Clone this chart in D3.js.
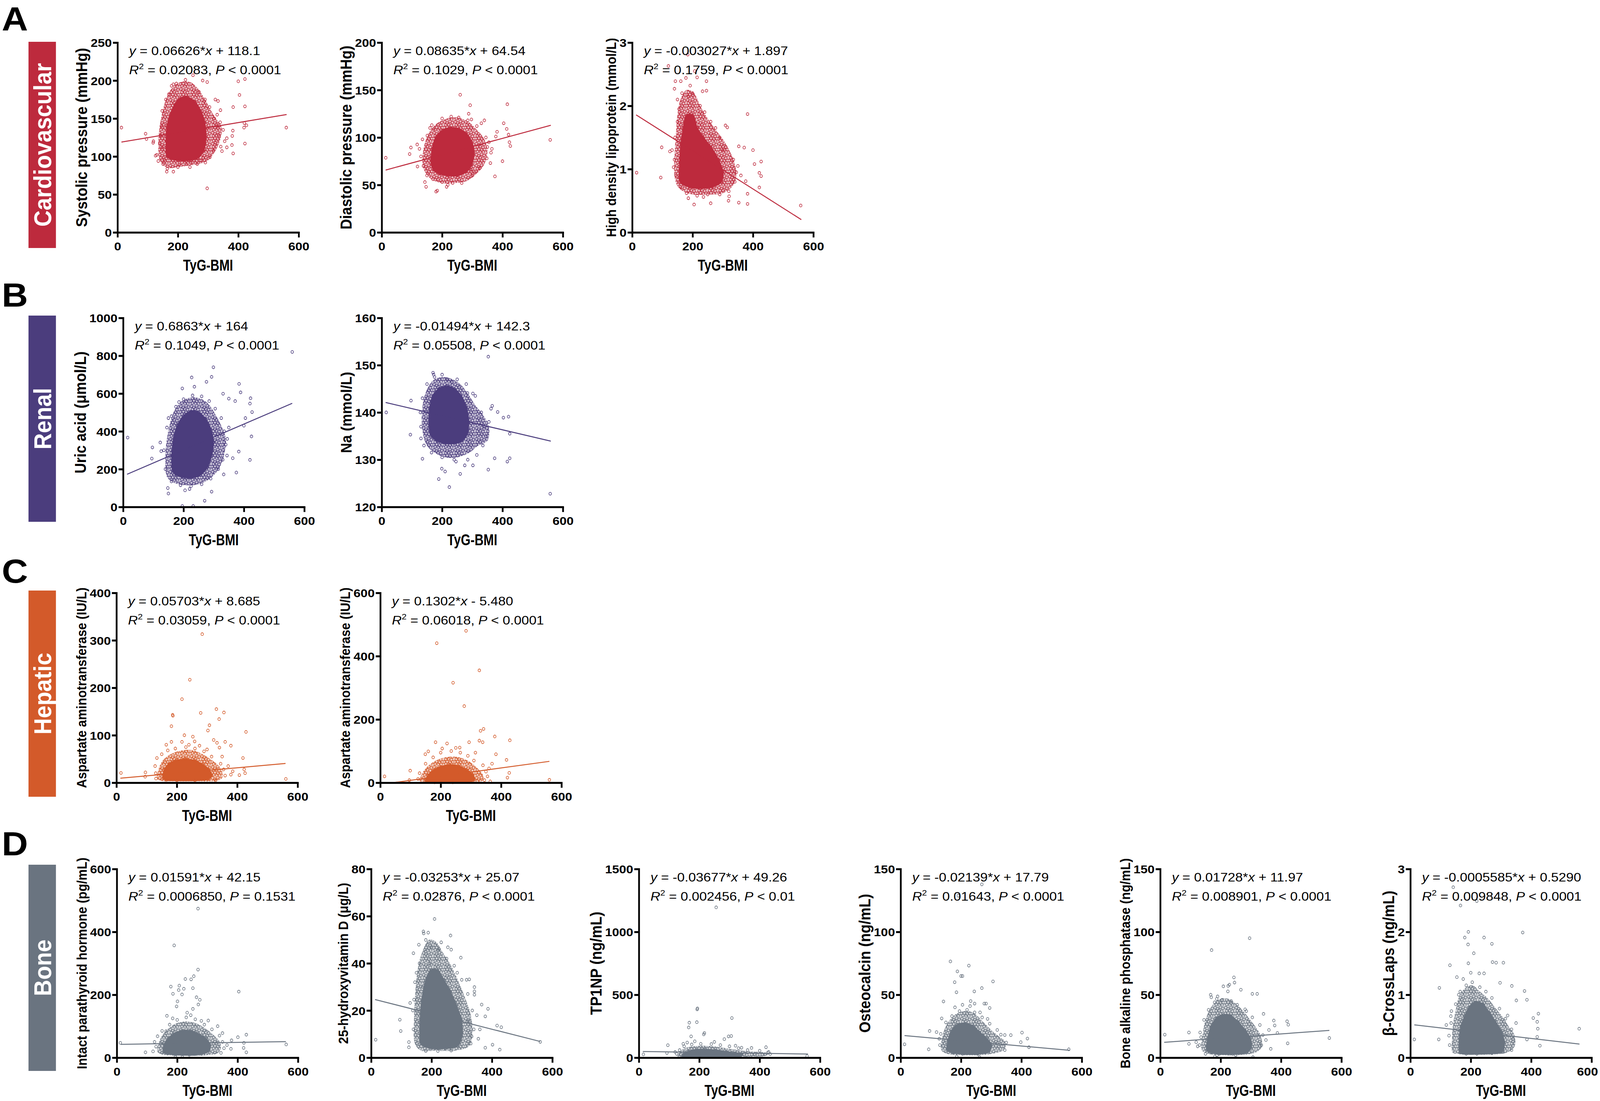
<!DOCTYPE html>
<html>
<head>
<meta charset="utf-8">
<script src="https://cdn.jsdelivr.net/npm/d3@7"></script>
<style>
  html, body { margin: 0; padding: 0; background: #fff; overflow: hidden; }
  #fig { display: block; width: 100vw; height: 100vh; }
  svg text { font-family: "Liberation Sans", Arial, Helvetica, sans-serif; white-space: pre; }
</style>
</head>
<body>
<svg id="fig" viewBox="0 0 4548 2819" preserveAspectRatio="none"></svg>
<script>
// --- figure groups (rows A-D)
var groups = ["Cardiovascular", "Renal", "Hepatic", "Bone"];
var groupLetters = ["A", "B", "C", "D"];
var groupColors = ["#bd2a3d", "#4b3d7d", "#d35a2a", "#6a7480"];

var xTicks = [0, 200, 400, 600];
var xLabel = "TyG-BMI";
var fitRange = [13, 560];

// --- one entry per panel, in reading order
var panelRow = [0, 0, 0, 1, 1, 2, 2, 3, 3, 3, 3, 3, 3];
var yLabels = [
  "Systolic pressure (mmHg)", "Diastolic pressure (mmHg)", "High density lipoprotein (mmol/L)",
  "Uric acid (\u03bcmol/L)", "Na (mmol/L)",
  "Aspartate aminotransferase (IU/L)", "Aspartate aminotransferase (IU/L)",
  "Intact parathyroid hormone (pg/mL)", "25-hydroxyvitamin D (\u03bcg/L)", "TP1NP (ng/mL)",
  "Osteocalcin (ng/mL)", "Bone alkaline phosphatase (ng/mL)", "\u03b2-CrossLaps (ng/mL)"
];
var yTicks = [
  [0, 50, 100, 150, 200, 250], [0, 50, 100, 150, 200], [0, 1, 2, 3],
  [0, 200, 400, 600, 800, 1000], [120, 130, 140, 150, 160],
  [0, 100, 200, 300, 400], [0, 200, 400, 600],
  [0, 200, 400, 600], [0, 20, 40, 60, 80], [0, 500, 1000, 1500],
  [0, 50, 100, 150], [0, 50, 100, 150], [0, 1, 2, 3]
];
var slopes = [0.06626, 0.08635, -0.003027, 0.6863, -0.01494, 0.05703, 0.1302, 0.01591, -0.03253, -0.03677, -0.02139, 0.01728, -0.0005585];
var intercepts = [118.1, 64.54, 1.897, 164, 142.3, 8.685, -5.480, 42.15, 25.07, 49.26, 17.79, 11.97, 0.5290];
var eqLines = [
  "y = 0.06626*x + 118.1", "y = 0.08635*x + 64.54", "y = -0.003027*x + 1.897",
  "y = 0.6863*x + 164", "y = -0.01494*x + 142.3",
  "y = 0.05703*x + 8.685", "y = 0.1302*x - 5.480",
  "y = 0.01591*x + 42.15", "y = -0.03253*x + 25.07", "y = -0.03677*x + 49.26",
  "y = -0.02139*x + 17.79", "y = 0.01728*x + 11.97", "y = -0.0005585*x + 0.5290"
];
var r2Vals = ["0.02083", "0.1029", "0.1759", "0.1049", "0.05508", "0.03059", "0.06018",
  "0.0006850", "0.02876", "0.002456", "0.01643", "0.008901", "0.009848"];
var pVals = ["< 0.0001", "< 0.0001", "< 0.0001", "< 0.0001", "< 0.0001", "< 0.0001", "< 0.0001",
  "= 0.1531", "< 0.0001", "< 0.01", "< 0.0001", "< 0.0001", "< 0.0001"];

// solid centre of each cloud (outline)
var sbpCore = [[165,100],[162,120],[165,140],[175,155],[190,168],[205,176],[230,178],[255,172],[275,160],[288,145],[292,125],[285,108],[265,98],[235,95],[200,95],[178,97]];
var dbpCore = [[165,72],[168,88],[180,100],[200,107],[225,110],[255,109],[280,104],[298,95],[305,84],[298,72],[280,64],[250,60],[220,60],[190,62],[172,66]];
var hdlCore = [[160,0.8],[158,1.1],[162,1.4],[170,1.65],[180,1.85],[200,1.85],[215,1.65],[235,1.5],[260,1.35],[285,1.15],[300,0.95],[295,0.8],[265,0.72],[225,0.7],[190,0.72]];
var uaCore = [[165,190],[162,270],[168,360],[180,430],[200,480],[225,505],[250,500],[272,465],[290,410],[298,340],[292,270],[278,210],[255,170],[225,155],[195,160],[175,172]];
var naCore = [[158,137],[160,141],[170,143.5],[190,145],[215,145.5],[240,145],[262,143.5],[280,141],[287,138],[283,135.5],[265,134],[240,133.5],[210,133.5],[185,134],[165,135]];
var ast1Core = [[155,10],[160,28],[175,40],[200,47],[230,49],[260,46],[285,38],[305,28],[315,16],[305,8],[260,5],[200,5],[165,6]];
var ast2Core = [[150,4],[158,22],[175,38],[200,50],[230,56],[260,52],[285,40],[305,25],[312,10],[295,2],[240,1],[180,1],[160,2]];
var pthCore = [[155,18],[158,40],[170,60],[190,75],[215,85],[245,85],[270,75],[295,60],[308,40],[305,22],[280,12],[240,9],[195,10],[168,13]];
var vitdCore = [[165,6],[163,15],[168,24],[180,32],[198,37],[220,37],[240,33],[262,28],[282,22],[298,16],[300,9],[285,5],[245,4],[200,4],[175,5]];
var p1npCore = [[145,8],[150,30],[165,50],[190,62],[220,64],[255,58],[290,46],[320,35],[340,25],[335,12],[300,7],[230,5],[175,5]];
var ocCore = [[155,6],[158,14],[168,21],[188,26],[215,27],[240,25],[262,20],[285,15],[300,10],[292,5],[255,3],[205,3],[172,4]];
var alpCore = [[155,6],[158,15],[168,24],[185,31],[210,34],[235,33],[258,28],[280,22],[298,15],[300,8],[285,4],[240,3],[195,3],[170,4]];
var ctxCore = [[165,0.08],[163,0.3],[168,0.5],[180,0.65],[195,0.8],[215,0.88],[240,0.85],[260,0.72],[280,0.58],[300,0.42],[310,0.25],[305,0.1],[270,0.07],[220,0.06],[185,0.06]];

// crowded ring of circles round each centre
var sbpRing = [[140,95],[135,115],[140,140],[150,160],[165,180],[185,192],[210,198],[240,198],[265,190],[290,175],[310,160],[330,148],[345,138],[340,122],[325,108],[300,95],[270,90],[235,88],[200,86],[165,85]];
var dbpRing = [[135,72],[140,90],[155,104],[180,114],[215,120],[250,121],[285,117],[315,108],[340,98],[350,85],[340,72],[315,62],[280,54],[240,52],[200,52],[165,56],[145,63]];
var hdlRing = [[140,0.9],[140,1.2],[145,1.55],[150,1.85],[160,2.1],[180,2.25],[205,2.2],[225,2.0],[250,1.8],[280,1.6],[310,1.4],[335,1.15],[345,0.95],[335,0.75],[300,0.62],[250,0.6],[200,0.6],[165,0.66],[148,0.75]];
var uaRing = [[145,160],[140,260],[145,360],[155,440],[170,510],[195,560],[230,580],[260,570],[285,540],[305,490],[325,430],[340,360],[335,280],[320,210],[295,160],[260,125],[220,115],[185,120],[160,135]];
var naRing = [[135,136],[133,140],[140,143],[155,145.5],[175,147],[205,147.5],[235,147],[260,146],[285,144],[310,141.5],[335,139.5],[355,137],[350,134],[320,133],[290,131.5],[250,130.5],[210,130.5],[175,131.5],[150,133]];
var ast1Ring = [[135,8],[140,30],[155,48],[180,60],[215,68],[255,68],[285,60],[310,50],[335,38],[350,25],[350,10],[330,4],[260,3],[190,3],[150,4]];
var ast2Ring = [[130,5],[138,28],[155,50],[180,68],[215,80],[250,82],[280,74],[305,60],[325,42],[340,25],[340,8],[320,1],[250,0],[170,0],[140,1]];
var pthRing = [[135,18],[138,45],[150,70],[170,92],[200,110],[235,115],[265,108],[295,92],[320,72],[340,52],[345,32],[335,15],[300,8],[240,6],[180,7],[150,10]];
var vitdRing = [[145,6],[142,16],[146,27],[155,38],[170,45],[192,50],[215,49],[240,44],[265,39],[290,32],[312,25],[330,18],[335,10],[325,5],[280,3],[210,3],[165,3]];
var p1npRing = [[128,12],[135,45],[150,72],[180,90],[215,95],[255,88],[295,72],[335,58],[375,48],[415,42],[430,30],[420,15],[370,8],[280,4],[190,3],[145,5]];
var ocRing = [[135,6],[138,16],[150,25],[170,32],[195,36],[225,37],[250,34],[275,28],[300,22],[325,17],[345,13],[345,7],[320,4],[260,2],[200,2],[155,3]];
var alpRing = [[138,6],[140,18],[150,30],[168,40],[192,46],[222,47],[250,43],[275,37],[298,30],[320,23],[335,16],[335,8],[315,4],[260,2],[200,2],[160,3]];
var ctxRing = [[140,0.08],[138,0.3],[142,0.55],[150,0.75],[160,0.95],[180,1.1],[205,1.15],[230,1.05],[255,0.95],[280,0.8],[305,0.65],[325,0.5],[345,0.35],[345,0.18],[320,0.08],[270,0.05],[210,0.05],[160,0.06]];

// individual circles outside the centre
var sbpPts = [[13,138],[559,138],[93,130],[96,123],[119,120],[118,118],[130,102],[126,101],[135,94],[297,58],[400,199],[422,202],[404,181],[422,166],[383,165],[420,144],[427,141],[419,138],[422,117],[383,104],[362,112],[379,115],[362,124],[380,127],[382,134],[341,161],[333,173],[324,175],[342,113],[346,107],[225,201],[250,207],[282,200],[297,198],[179,193],[185,195],[151,90],[165,84],[163,80],[185,80],[205,89],[228,90],[243,92],[264,90],[291,92],[284,98],[306,99],
  [145,140],[142,128],[148,160],[160,175],[170,182],[195,196],[270,185],[290,175],[305,165],[320,150],[330,140],[335,128],[325,118],[318,108],[140,118],[155,96],[200,86],[240,86],[275,95],[148,112],[330,155],[340,145],[350,135],[355,120]];
var dbpPts = [[13.5,78.6],[558,97.5],[92.5,82.6],[96.7,89.4],[117.5,92.6],[118.5,69.4],[143,53],[147,48],[180,43],[184,44],[215,48],[219,50],[260,145],[293,134],[288,125],[297,119],[340,118],[404,115],[416,135],[414,109],[420,103],[423,95],[426,91],[375,59],[400,75],[382,106],[378,101],[362,84],[360,73],[308,63],[296,66],[166,113],[172,109],[151,102],
  [130,80],[125,88],[135,98],[160,110],[200,120],[230,122],[255,121],[285,118],[315,112],[345,100],[350,90],[348,78],[325,68],[300,60],[265,52],[235,52],[200,53],[170,56],[150,60],[138,70],[355,95],[365,88],[330,115]];
var hdlPts = [[14.6,0.944],[558,0.425],[97.7,1.344],[94.6,0.867],[120,2.63],[184,2.81],[178,2.44],[161,2.39],[143,2.39],[215,2.45],[207,2.55],[246,2.39],[192,2.32],[140,2.27],[233,2.23],[246,2.24],[382,1.87],[400,1.30],[427,1.12],[405,1.08],[371,1.34],[353,1.36],[421,0.94],[427,0.89],[421,0.71],[353,0.47],[382,0.45],[382,0.61],[376,0.81],[319,0.50],[321,0.57],[260,0.46],[205,0.44],[186,0.54],[236,0.56],[132,1.30],[137,1.03],[125,1.28],[309,1.69],[315,1.66],[276,1.65],
  [150,2.1],[165,2.2],[185,2.15],[200,2.2],[225,2.0],[240,1.9],[260,1.75],[290,1.5],[310,1.35],[335,1.15],[345,0.95],[340,0.8],[320,0.65],[290,0.6],[250,0.6],[215,0.58],[180,0.62],[160,0.72],[145,0.9],[140,1.15],[142,1.5],[150,1.75],[155,1.95],[350,1.05],[360,0.9],[300,1.3]];
var uaPts = [[15,367],[560,820],[97,315],[95,256],[123,341],[126,295],[299,739],[227,685],[293,688],[276,662],[196,627],[236,636],[384,651],[389,606],[422,575],[420,547],[427,502],[425,373],[405,470],[400,430],[420,249],[383,293],[375,182],[333,172],[293,81],[270,33],[196,5],[232,5],[148,100],[150,71],[205,88],[220,95],[331,599],[350,573],[371,560],[344,272],[363,258],
  [140,200],[135,300],[145,420],[160,480],[175,530],[200,570],[230,590],[260,585],[285,560],[305,520],[325,470],[335,400],[340,330],[330,250],[315,200],[290,150],[260,120],[225,110],[190,115],[160,135],[350,420],[345,360],[150,470],[185,555]];
var naPts = [[15,140],[558,122.8],[97,142.5],[95,135.3],[135,130.2],[353,151.8],[170,148.4],[172,148],[189,125.9],[224,124.2],[199,128.1],[353,127.9],[374,130.3],[424,130.3],[416,129.6],[384,140.1],[420,139.1],[403,138.9],[424,135.5],[366,141.4],[362,140.8],[302,144],[284,144.1],[233,146.4],[217,146.9],[275,128.8],[302,128.8],[246,129.6],
  [130,137],[128,140],[135,143],[150,146],[175,147.5],[200,148],[250,147],[280,146],[310,143.5],[330,140],[340,137],[335,133],[315,131],[285,130],[240,130],[200,130.5],[165,131.5],[140,133],[130,134.5],[345,135],[355,138],[260,127],[210,127.5]];
var ast1Pts = [[15,20.5],[561,7.9],[96,21.7],[95,12.6],[134,52],[131,8.7],[284,313],[243,217],[217,176],[186,143],[187,141],[182,119],[225,100],[279,147],[331,155],[356,148],[340,134],[308,121],[303,110],[379,78],[429,107],[419,52],[360,86],[322,90],[341,74],[333,84],[259,87],[253,97],[217,86],[182,86],[423,28],[426,20],[407,16],[379,17],[385,24],[328,5],
  [150,60],[170,68],[195,72],[230,75],[260,72],[290,66],[315,55],[345,40],[355,28],[360,15],[130,20],[128,35],[165,80],[240,80],[275,78],[300,70],[350,55],[370,35]];
var ast2Pts = [[14,20],[560,9],[99,38],[96,8],[284,480],[187,441],[328,355],[241,316],[278,242],[332,164],[342,170],[379,146],[429,134],[418,72],[383,90],[183,128],[221,124],[339,128],[328,133],[294,128],[427,31],[421,16],[364,4],[149,90],[159,99],[263,111],
  [130,30],[150,60],[175,80],[200,95],[235,100],[265,95],[290,85],[310,70],[340,55],[350,35],[355,20],[345,8],[125,12],[205,108],[250,110],[315,95],[360,45],[370,60]];
var pthPts = [[12,47],[561,42],[95,17],[269,474],[190,357],[269,280],[255,259],[227,250],[246,249],[252,221],[222,219],[179,226],[207,229],[186,203],[216,201],[205,215],[404,210],[264,192],[275,184],[270,169],[198,163],[201,179],[252,155],[233,143],[166,133],[350,78],[401,65],[429,73],[421,47],[429,17],[420,31],[378,28],[194,4],[217,2],[135,68],[163,84],[334,100],[303,118],[280,117],
  [130,35],[125,50],[150,85],[175,105],[200,120],[230,128],[260,122],[290,105],[315,90],[340,70],[350,50],[355,30],[345,15],[120,20],[185,125],[245,135],[365,40],[380,55]];
var vitdPts = [[15,7.6],[95,16.1],[98,11.3],[125,4.4],[560,6.7],[210,58.8],[173,53.5],[174,52.7],[189,53],[158,47.9],[181,49.9],[263,51.8],[232,48.9],[221,45.4],[254,46.8],[265,45.8],[297,42.4],[140,44.3],[316,33],[325,33.2],[342,29.9],[342,28.1],[342,26.7],[387,20.7],[366,22.5],[378,17.5],[417,13.6],[431,12.9],[426,3.4],[402,5.5],[378,4.2],[355,8],[333,9],[129,23.2],[142,24.6],[125,6.6],[181,2.8],[221,2.8],[265,3],[321,15.5],
  [140,12],[138,20],[145,32],[160,40],[180,45],[200,47],[225,46],[250,42],[275,39],[300,33],[320,27],[335,20],[340,12],[330,6],[150,36],[195,40],[170,30],[285,36],[350,18],[360,12]];
var p1npPts = [[15,26],[557,13],[96,99],[93,37],[256,1195],[194,392],[193,384],[192,282],[167,278],[165,240],[308,315],[306,172],[297,169],[283,147],[217,196],[215,185],[173,169],[147,110],[185,130],[340,79],[373,77],[421,83],[427,40],
  [125,30],[135,60],[150,90],[175,105],[205,110],[240,108],[270,100],[300,90],[330,75],[360,60],[400,55],[430,45],[435,28],[120,45],[160,120],[250,125],[320,95]];
var ocPts = [[13,10.6],[93,6.6],[96,21.2],[557,6.6],[269,137.8],[191,128.8],[165,76.5],[226,73.2],[188,68.6],[200,64.9],[205,64.9],[179,60],[306,60.6],[269,55.3],[142,44.7],[185,52],[244,52.7],[232,45],[245,43],[277,43],[283,43],[295,39.5],[288,30.8],[263,36],[332,18.3],[365,17.9],[402,19.9],[420,15.2],[425,8.3],[398,12.3],[186,1],[261,0.4],[119,20.3],[133,18.9],[136,31.2],
  [130,10],[128,15],[150,28],[170,33],[195,37],[220,38],[245,36],[270,32],[295,27],[320,22],[345,18],[350,12],[345,6],[205,42],[180,40],[230,41]];
var alpPts = [[15,18.3],[560,15.6],[95,20],[95,11],[296,95],[170,85.5],[244,63.8],[246,59.7],[225,57],[229,58],[209,56.7],[167,50],[169,48],[190,48.7],[187,46.7],[224,52.7],[267,54],[305,50.7],[321,50.7],[281,38.4],[342,34.8],[376,29.5],[420,28.9],[424,26.2],[422,11.4],[366,7],[307,0.4],[181,1],[188,2],[124,9],[119,12.3],[135,16.3],[379,25.6],[388,19.6],
  [130,10],[132,20],[145,30],[160,38],[180,44],[205,46],[235,45],[255,42],[285,37],[305,32],[330,26],[340,18],[335,10],[150,3],[250,2],[350,14],[360,22]];
var ctxPts = [[13,0.29],[559,0.46],[96,1.11],[94,0.29],[142,2.71],[166,2.42],[220,2.49],[192,2.0],[372,1.99],[180,1.91],[244,1.91],[191,1.8],[270,1.81],[210,1.66],[131,1.47],[192,1.5],[272,1.52],[284,1.51],[308,1.51],[228,1.34],[244,1.34],[154,1.28],[297,1.19],[336,1.14],[378,1.06],[386,0.92],[351,0.91],[424,0.7],[420,0.57],[422,0.46],[407,0.63],[429,0.19],[420,0.33],[134,0.66],[119,0.52],[136,0.74],[386,0.29],[322,0.67],
  [130,0.2],[128,0.35],[135,0.55],[150,0.85],[165,1.05],[185,1.15],[205,1.2],[230,1.12],[250,1.05],[270,0.95],[295,0.78],[315,0.62],[335,0.45],[340,0.3],[335,0.12],[175,1.25],[200,1.35],[160,1.0],[350,0.55]];

var cores = [sbpCore, dbpCore, hdlCore, uaCore, naCore, ast1Core, ast2Core, pthCore, vitdCore, p1npCore, ocCore, alpCore, ctxCore];
var rings = [sbpRing, dbpRing, hdlRing, uaRing, naRing, ast1Ring, ast2Ring, pthRing, vitdRing, p1npRing, ocRing, alpRing, ctxRing];
var points = [sbpPts, dbpPts, hdlPts, uaPts, naPts, ast1Pts, ast2Pts, pthPts, vitdPts, p1npPts, ocPts, alpPts, ctxPts];

// --- layout (the page is stretched to whatever window it gets)
var svg = d3.select("#fig"),
    FW = 4548,
    W = 515,
    rowTop = [109, 814, 1518, 2225],
    rowBottom = [595, 1298, 2004, 2708],
    bandTop = [107, 808, 1512, 2214],
    letterY = [78, 785, 1492, 2190],
    panelLeft = [334, 1085, 1797, 350, 1085, 331, 1081, 332, 1055, 1816, 2560, 3298, 4009],
    yLabelSize = [37, 37, 32, 37, 36, 32, 32, 32, 32, 37, 37, 32, 37],
    SX = 1.2;   // the original figure is a little wider than its fonts

svg.append("rect").attr("width", FW).attr("height", 2819).attr("fill", "#fff");

// tiled open circles used to fill the crowded ring
var defs = svg.append("defs");
var tile = [[4,4],[11,7],[19,3],[26,6],[7,12],[15,11],[23,13],[3,19],[11,18],[19,20],[27,19],[7,24],[16,25],[24,25]];
groupColors.forEach(function(c, r) {
  defs.append("pattern")
    .attr("id", "ring" + r)
    .attr("patternUnits", "userSpaceOnUse")
    .attr("width", 30).attr("height", 28)
    .selectAll("circle").data(tile).enter().append("circle")
      .attr("cx", function(d) { return d[0]; })
      .attr("cy", function(d) { return d[1]; })
      .attr("r", 3.6)
      .attr("fill", "none")
      .attr("stroke", c)
      .attr("stroke-width", 1.6);
});

// row letters + coloured bands
groups.forEach(function(name, r) {
  svg.append("text")
    .attr("transform", "translate(5," + letterY[r] + ") scale(" + SX + ",1)")
    .attr("font-size", 86).attr("font-weight", "bold")
    .text(groupLetters[r]);
  svg.append("rect")
    .attr("x", 81).attr("y", bandTop[r])
    .attr("width", 78).attr("height", 528)
    .attr("fill", groupColors[r]);
  svg.append("text")
    .attr("transform", "translate(121," + (bandTop[r] + 264) + ") scale(" + SX + ",1) rotate(-90)")
    .attr("text-anchor", "middle")
    .attr("dominant-baseline", "central")
    .attr("font-size", 58).attr("font-weight", "bold")
    .attr("fill", "#fff")
    .text(name);
});

panelRow.forEach(function(r, i) {
  var left = panelLeft[i], top = rowTop[r], bottom = rowBottom[r],
      col = groupColors[r], yt = yTicks[i];

  var x = d3.scaleLinear().domain([0, 600]).range([left, left + W]),
      y = d3.scaleLinear().domain([yt[0], yt[yt.length - 1]]).range([bottom, top]);

  var shape = d3.line()
    .x(function(d) { return x(d[0]); })
    .y(function(d) { return y(d[1]); })
    .curve(d3.curveCatmullRomClosed);

  var g = svg.append("g");

  g.append("clipPath").attr("id", "clip" + i)
    .append("rect").attr("x", left).attr("y", top).attr("width", W).attr("height", bottom - top);

  // crowded ring, then solid centre
  g.append("path").datum(rings[i]).attr("d", shape)
    .attr("fill", col).attr("fill-opacity", 0.3);
  g.append("path").datum(rings[i]).attr("d", shape)
    .attr("fill", "url(#ring" + r + ")");
  g.append("path").datum(cores[i]).attr("d", shape)
    .attr("fill", col).attr("stroke", col).attr("stroke-width", 4);

  // circles
  g.selectAll("circle.pt")
    .data(points[i].concat(cores[i]))
    .enter().append("circle")
      .attr("class", "pt")
      .attr("cx", function(d) { return x(d[0]); })
      .attr("cy", function(d) { return y(d[1]); })
      .attr("r", 3.6)
      .attr("fill", "none")
      .attr("stroke", col)
      .attr("stroke-width", 1.6);

  // fit line
  g.append("line")
    .attr("clip-path", "url(#clip" + i + ")")
    .attr("x1", x(fitRange[0])).attr("y1", y(slopes[i] * fitRange[0] + intercepts[i]))
    .attr("x2", x(fitRange[1])).attr("y2", y(slopes[i] * fitRange[1] + intercepts[i]))
    .attr("stroke", col).attr("stroke-width", 2.5);

  // axes
  var xa = g.append("g")
    .attr("transform", "translate(0," + bottom + ")")
    .call(d3.axisBottom(x).tickValues(xTicks).tickSize(13).tickSizeOuter(0).tickPadding(12));
  var ya = g.append("g")
    .attr("transform", "translate(" + left + ",0)")
    .call(d3.axisLeft(y).tickValues(yt).tickSize(13).tickSizeOuter(0).tickPadding(3).tickFormat(d3.format("d")));

  [xa, ya].forEach(function(a) {
    a.select(".domain").attr("stroke", "#000").attr("stroke-width", 5).attr("stroke-linecap", "square");
    a.selectAll(".tick line").attr("stroke", "#000").attr("stroke-width", 5);
    a.selectAll(".tick text")
      .attr("font-family", null)
      .attr("font-size", 30).attr("font-weight", "bold").attr("fill", "#000")
      .attr("transform", "scale(" + SX + ",1)");
  });
  ya.selectAll(".tick text").attr("dy", "0.36em").attr("x", -16 / SX);

  // keep the last tick label inside the page
  xa.selectAll(".tick text").each(function(d) {
    var over = x(d) + SX * this.getComputedTextLength() / 2 - (FW - 6);
    if (over > 0) d3.select(this).attr("x", -over / SX);
  });

  var tickW = SX * d3.max(ya.selectAll(".tick text").nodes(), function(n) { return n.getComputedTextLength(); });

  // y label
  g.append("text")
    .attr("transform", "translate(" + (left - 16 - tickW - 10) + "," + (top + bottom) / 2 + ") scale(" + SX + ",1) rotate(-90)")
    .attr("text-anchor", "middle")
    .attr("font-size", yLabelSize[i]).attr("font-weight", "bold")
    .text(yLabels[i]);

  // x label (narrow in the original)
  g.append("text")
    .attr("transform", "translate(" + (left + W / 2) + "," + (bottom + 98) + ") scale(0.88,1)")
    .attr("text-anchor", "middle")
    .attr("font-size", 40).attr("font-weight", "bold")
    .text(xLabel);

  // equation
  var eq = g.append("text")
    .attr("transform", "translate(" + (left + 33) + "," + (top + 32) + ") scale(" + SX + ",1)")
    .attr("font-size", 32);
  eqLines[i].split(/([xy])/).forEach(function(s) {
    if (!s) return;
    eq.append("tspan").attr("font-style", (s === "x" || s === "y") ? "italic" : null).text(s);
  });

  var st = g.append("text")
    .attr("transform", "translate(" + (left + 33) + "," + (top + 81) + ") scale(" + SX + ",1)")
    .attr("font-size", 32);
  st.append("tspan").attr("font-style", "italic").text("R");
  st.append("tspan").attr("font-size", 21).attr("dy", -13).text("2");
  st.append("tspan").attr("dy", 13).text(" = " + r2Vals[i] + ", ");
  st.append("tspan").attr("font-style", "italic").text("P");
  st.append("tspan").text(" " + pVals[i]);
});
</script>
</body>
</html>
